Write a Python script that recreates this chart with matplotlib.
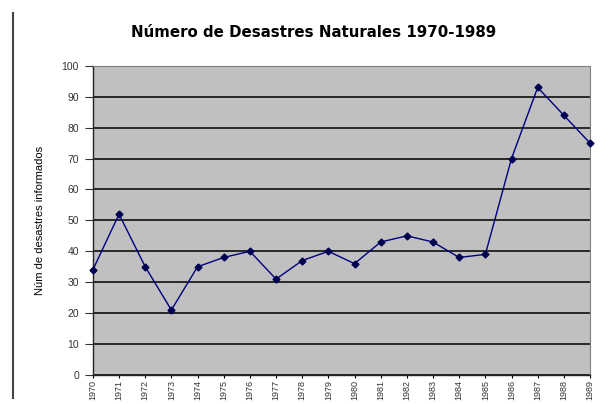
import matplotlib
matplotlib.use('Agg')
import matplotlib.pyplot as plt
from matplotlib.lines import Line2D

plt.rcParams['font.family'] = ['Liberation Sans', 'DejaVu Sans']

years = list(range(1970, 1990))
desastres = [34, 52, 35, 21, 35, 38, 40, 31, 37, 40, 36, 43, 45, 43, 38, 39, 70, 93, 84, 75]
y_ticks = list(range(0, 101, 10))

fig = plt.figure(figsize=(6.07, 4.04), dpi=100)
ax = fig.add_axes([0.153, 0.072, 0.819, 0.765])
ax.set_facecolor('#C0C0C0')

ax.plot(years, desastres, color='#000080', lw=1.0, marker='D', ms=3.5,
        markerfacecolor='#000050', markeredgecolor='#000050', clip_on=False, zorder=3)

ax.set_xlim(1970, 1989)
ax.set_ylim(0, 100)
ax.set_yticks(y_ticks)
ax.set_xticks(years)
ax.set_xticklabels([str(y) for y in years], rotation=90, fontsize=6.5, color='#333333')
ax.tick_params(axis='y', labelsize=7.5, colors='#333333', length=6, width=0.8,
               direction='out', pad=4)
ax.tick_params(axis='x', length=2.5, width=0.8, direction='out', pad=1)
ax.grid(axis='y', color='black', lw=1.1)
ax.set_axisbelow(True)

for s in ['top', 'right']:
    ax.spines[s].set_color('#808080')
for s in ['left', 'bottom']:
    ax.spines[s].set_color('#222222')
    ax.spines[s].set_linewidth(1.0)

ax.set_ylabel('Núm de desastres informados', fontsize=8, labelpad=12)
# the title in the picture is set wide, so a wider family is used here
fig.text(0.517, 0.92, 'Número de Desastres Naturales 1970-1989',
         ha='center', va='center', fontsize=10.8, fontweight='bold',
         family='DejaVu Sans')

# page border on the left
fig.add_artist(Line2D([13 / 607, 13 / 607], [1 - 13 / 404, 1 - 398 / 404],
                      color='#444444', lw=1.5))

fig.savefig('out.png', dpi=100)
